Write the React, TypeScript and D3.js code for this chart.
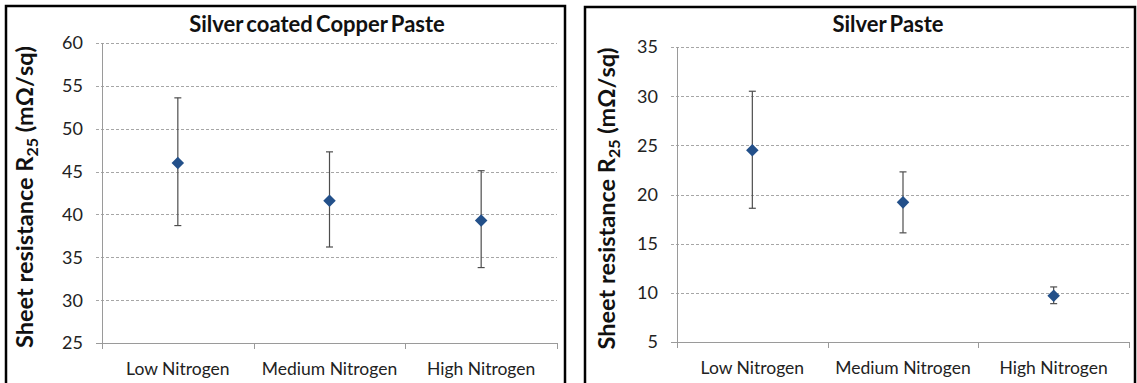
import React from "react";
import * as d3 from "d3";

const categories = ["Low Nitrogen", "Medium Nitrogen", "High Nitrogen"];

// Silver coated copper paste
const copperMean = [46.0, 41.6, 39.3];
const copperLow = [38.7, 36.2, 33.8];
const copperHigh = [53.6, 47.3, 45.1];
const copperTicks = [25, 30, 35, 40, 45, 50, 55, 60];

// Silver paste
const silverMean = [24.5, 19.2, 9.7];
const silverLow = [18.6, 16.1, 8.9];
const silverHigh = [30.5, 22.3, 10.6];
const silverTicks = [5, 10, 15, 20, 25, 30, 35];

const FONT = "Lato, 'Open Sans', sans-serif";
const DIAMOND = "#23508a";
const WIDTH = 1137;
const HEIGHT = 383;

type PanelProps = {
  title: string;
  titleX: number;
  box: { x: number; y: number; w: number; h: number };
  plot: { left: number; right: number; top: number; bottom: number };
  ticks: number[];
  mean: number[];
  low: number[];
  high: number[];
  labelX: number;
};

function Panel({ title, titleX, box, plot, ticks, mean, low, high, labelX }: PanelProps) {
  const x = d3.scaleBand<string>().domain(categories).range([plot.left, plot.right]);
  const y = d3
    .scaleLinear()
    .domain([d3.min(ticks) || 0, d3.max(ticks) || 0])
    .range([plot.bottom, plot.top]);
  const cx = (c: string) => (x(c) || 0) + x.bandwidth() / 2;
  const bounds = [plot.left, ...categories.map((c) => (x(c) || 0) + x.bandwidth())];
  const diamond = d3.symbol(d3.symbolDiamond2, 100)() || "";
  const labelY = (plot.top + plot.bottom) / 2 + 4;

  return (
    <g>
      <rect x={box.x} y={box.y} width={box.w} height={box.h} fill="#fff" stroke="#000" strokeWidth={2.5} />
      <text
        x={titleX}
        y={32}
        textAnchor="middle"
        fontFamily={FONT}
        fontWeight={700}
        fontSize={22}
        wordSpacing={-2}
        fill="#111"
      >
        {title}
      </text>

      {/* gridlines */}
      {ticks.slice(1).map((t) => (
        <line
          key={"g" + t}
          x1={plot.left - 6}
          x2={plot.right}
          y1={Math.round(y(t)) + 0.5}
          y2={Math.round(y(t)) + 0.5}
          stroke="#a6a6a6"
          strokeWidth={1}
          strokeDasharray="3,2"
        />
      ))}

      {/* axes */}
      <line x1={plot.left + 0.5} x2={plot.left + 0.5} y1={y(ticks[ticks.length - 1])} y2={plot.bottom} stroke="#9a9a9a" />
      <line x1={plot.left - 6} x2={plot.right} y1={plot.bottom + 0.5} y2={plot.bottom + 0.5} stroke="#9a9a9a" />
      {bounds.map((b, i) => (
        <line key={"xt" + i} x1={Math.round(b) + 0.5} x2={Math.round(b) + 0.5} y1={plot.bottom} y2={plot.bottom + 6} stroke="#9a9a9a" />
      ))}

      {/* y tick labels */}
      {ticks.map((t) => (
        <text
          key={"yl" + t}
          x={plot.left - 19}
          y={y(t)}
          dy="0.36em"
          textAnchor="end"
          fontFamily={FONT}
          fontSize={18}
          fill="#222"
        >
          {t}
        </text>
      ))}

      {/* x labels */}
      {categories.map((c) => (
        <text key={"xl" + c} x={cx(c)} y={plot.bottom + 32} textAnchor="middle" fontFamily={FONT} fontSize={17.5} fill="#222">
          {c}
        </text>
      ))}

      {/* y axis title */}
      <text
        transform={`translate(${labelX},${labelY}) rotate(-90)`}
        textAnchor="middle"
        fontFamily={FONT}
        fontWeight={700}
        fontSize={23.5}
        fill="#111"
      >
        Sheet resistance R
        <tspan fontSize={16} dy={5}>25</tspan>
        <tspan dy={-5}> (mΩ/sq)</tspan>
      </text>

      {/* error bars */}
      {categories.map((c, i) => (
        <g key={"e" + c} stroke="#4d4d4d" strokeWidth={1.2}>
          <line x1={cx(c)} x2={cx(c)} y1={y(low[i])} y2={y(high[i])} />
          <line x1={cx(c) - 3.5} x2={cx(c) + 3.5} y1={y(low[i])} y2={y(low[i])} />
          <line x1={cx(c) - 3.5} x2={cx(c) + 3.5} y1={y(high[i])} y2={y(high[i])} />
        </g>
      ))}

      {/* markers */}
      {categories.map((c, i) => (
        <path key={"m" + c} d={diamond} transform={`translate(${cx(c)},${y(mean[i])})`} fill={DIAMOND} />
      ))}
    </g>
  );
}

export default function App() {
  return (
    <svg
      width={WIDTH}
      height={HEIGHT}
      style={{ position: "absolute", left: 0, top: 0, background: "#fff" }}
    >
      <rect width={WIDTH} height={HEIGHT} fill="#fff" />
      <Panel
        title="Silver coated Copper Paste"
        titleX={317}
        box={{ x: 6, y: 6, w: 559, h: 382 }}
        plot={{ left: 102, right: 557, top: 43, bottom: 343 }}
        ticks={copperTicks}
        mean={copperMean}
        low={copperLow}
        high={copperHigh}
        labelX={33}
      />
      <Panel
        title="Silver Paste"
        titleX={888}
        box={{ x: 585, y: 7, w: 550, h: 381 }}
        plot={{ left: 677, right: 1129, top: 47, bottom: 342 }}
        ticks={silverTicks}
        mean={silverMean}
        low={silverLow}
        high={silverHigh}
        labelX={615}
      />
    </svg>
  );
}
